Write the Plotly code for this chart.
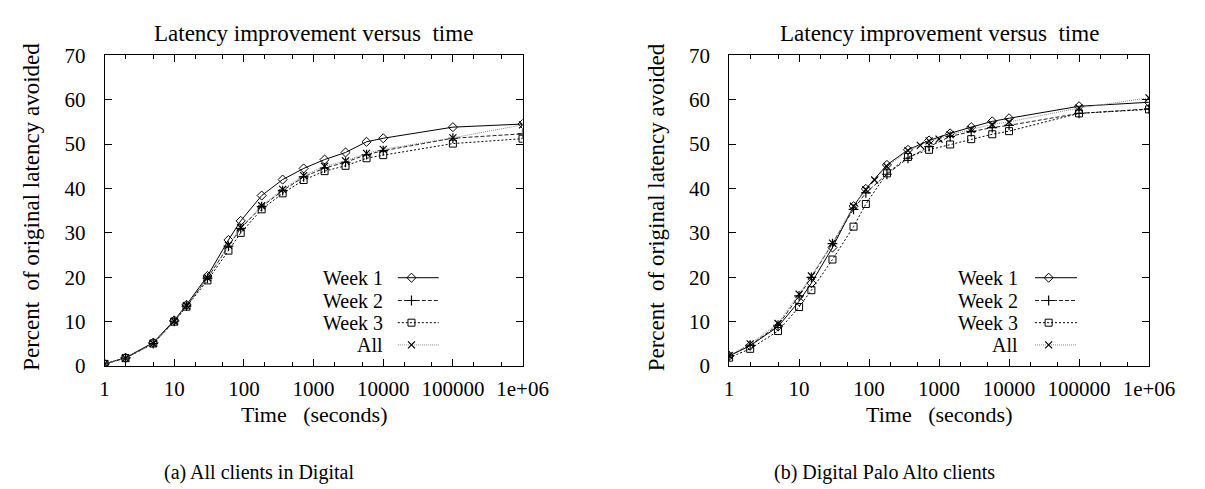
import plotly.graph_objects as go

# ---------------- data ----------------
times = [1, 2, 5, 10, 15, 30, 60, 90, 180, 360, 720, 1440, 2880, 5760, 10000, 100000, 1000000]

a_week1 = [0.5, 1.9, 5.3, 10.3, 13.8, 20.3, 28.4, 32.7, 38.4, 42.0, 44.5, 46.5, 48.1, 50.5, 51.3, 53.8, 54.5]
a_week2 = [0.5, 1.8, 5.1, 10.1, 13.5, 19.8, 27.0, 31.0, 35.9, 39.5, 42.6, 44.6, 45.9, 47.6, 48.5, 51.3, 52.3]
a_week3 = [0.5, 1.8, 5.1, 10.0, 13.4, 19.3, 26.0, 30.0, 35.3, 38.9, 41.9, 43.9, 45.1, 46.8, 47.5, 50.1, 51.2]
a_all = [0.5, 1.8, 5.1, 10.1, 13.6, 19.9, 27.2, 31.2, 36.1, 39.8, 42.9, 45.0, 46.2, 47.9, 48.8, 51.4, 54.3]

b_week1 = [2.3, 4.6, 8.9, 14.6, 18.7, 26.7, 36.0, 39.9, 45.3, 48.7, 50.8, 52.4, 53.8, 55.1, 55.8, 58.5, 59.4]
b_week2 = [2.3, 4.7, 9.2, 15.8, 20.0, 27.6, 35.3, 39.0, 43.2, 46.8, 49.4, 51.7, 52.8, 53.7, 54.2, 56.9, 57.9]
b_week3 = [1.9, 3.9, 7.9, 13.3, 17.1, 24.0, 31.4, 36.5, 43.4, 47.1, 48.7, 49.9, 51.1, 52.2, 52.9, 56.9, 57.8]
b_all_times = [1, 2, 5, 10, 15, 30, 60, 90, 120, 180, 360, 540, 720, 1000, 1440, 2880, 5760, 10000, 100000, 1000000]
b_all = [2.4, 5.0, 9.6, 16.2, 20.3, 27.7, 36.0, 39.7, 41.9, 44.9, 48.5, 49.7, 50.7, 51.1, 52.1, 53.3, 54.4, 55.0, 58.1, 60.4]

series_names = ["Week 1", "Week 2", "Week 3", "All"]
x_tickvals = [1, 10, 100, 1000, 10000, 100000, 1000000]
x_ticktext = ["1", "10", "100", "1000", "10000", "100000", "1e+06"]
x_minorvals = [2, 5, 20, 50, 200, 500, 2000, 5000, 20000, 50000, 200000, 500000]

title_text = "Latency improvement versus  time"
ytitle_text = "Percent  of original latency avoided"
xtitle_text = "Time   (seconds)"
caption_a = "(a) All clients in Digital"
caption_b = "(b) Digital Palo Alto clients"

# ---------------- styles ----------------
FONT = "Liberation Serif"
FS_TICK = 21
FS_LEG = 20
W, H = 1205, 489
styles = [
    dict(line=dict(color="black", width=1, dash="solid"),
         marker=dict(symbol="diamond-open", size=7, color="black", line=dict(width=1))),
    dict(line=dict(color="#222222", width=1, dash="4px,2px"),
         marker=dict(symbol="cross-thin-open", size=7, color="black", line=dict(width=1.2))),
    dict(line=dict(color="black", width=1, dash="2px,2px"),
         marker=dict(symbol="square-open", size=7, color="black", line=dict(width=1))),
    dict(line=dict(color="#888888", width=1, dash="1px,1px"),
         marker=dict(symbol="x-thin-open", size=7, color="black", line=dict(width=1.2))),
]

# plot boxes in pixels
boxes = [(94, 523), (735, 1166)]
y_top, y_bot = 37, 364


def px_to_paper_x(px):
    return px / W


def px_to_paper_y(py):
    return (H - py) / H


fig = go.Figure()

panels = [
    (["x", "y"], [(times, a_week1), (times, a_week2), (times, a_week3), (times, a_all)]),
    (["x2", "y2"], [(times, b_week1), (times, b_week2), (times, b_week3), (b_all_times, b_all)]),
]

for (xa, ya), data in panels:
    for name, (xs, ys), st in zip(series_names, data, styles):
        fig.add_trace(go.Scatter(x=xs, y=ys, mode="lines+markers", name=name,
                                 xaxis=xa, yaxis=ya, line=st["line"], marker=st["marker"],
                                 showlegend=False))

# legend samples (gnuplot-style key: text then sample) on overlay axes
legend_rows_py = [271, 295, 318.3, 341.7]
legend_geom = [  # text right edge, line start, line end, marker pos (px)
    (381, 395, 437, 409),
    (1033, 1049, 1092, 1063),
]
legend_axes = [("x3", "y3"), ("x4", "y4")]
annotations = []
for pi, ((tr, l0, l1, lm), (xa, ya)) in enumerate(zip(legend_geom, legend_axes)):
    bx0, bx1 = boxes[pi]
    fx = lambda p: (p - bx0) / (bx1 - bx0)
    for name, py, st in zip(series_names, legend_rows_py, styles):
        fy = (y_bot - py) / (y_bot - y_top)
        fig.add_trace(go.Scatter(x=[fx(l0), fx(l1)], y=[fy, fy], mode="lines", xaxis=xa, yaxis=ya,
                                 line=st["line"], showlegend=False, hoverinfo="skip"))
        fig.add_trace(go.Scatter(x=[fx(lm)], y=[fy], mode="markers", xaxis=xa, yaxis=ya,
                                 marker=st["marker"], showlegend=False, hoverinfo="skip"))
        annotations.append(dict(text=name, x=px_to_paper_x(tr), y=px_to_paper_y(py),
                                xref="paper", yref="paper", xanchor="right", yanchor="middle",
                                borderpad=0, showarrow=False,
                                font=dict(size=FS_LEG, family=FONT, color="black")))

for pi, (bx0, bx1) in enumerate(boxes):
    cx = (bx0 + bx1) / 2
    annotations.append(dict(text=title_text, x=px_to_paper_x(cx), y=px_to_paper_y(14),
                            xref="paper", yref="paper", xanchor="center", yanchor="middle",
                            showarrow=False, font=dict(size=23, family=FONT, color="black")))
    annotations.append(dict(text=xtitle_text, x=px_to_paper_x(cx), y=px_to_paper_y(415),
                            xref="paper", yref="paper", xanchor="center", yanchor="middle",
                            borderpad=0, showarrow=False, font=dict(size=22, family=FONT, color="black")))
    annotations.append(dict(text=ytitle_text, x=px_to_paper_x(bx0 - 75), y=px_to_paper_y(197),
                            xref="paper", yref="paper", xanchor="center", yanchor="middle", textangle=-90,
                            showarrow=False, font=dict(size=23, family=FONT, color="black")))

annotations.append(dict(text=caption_a, x=px_to_paper_x(252), y=px_to_paper_y(476),
                        xref="paper", yref="paper", xanchor="center", yanchor="middle",
                        showarrow=False, font=dict(size=20, family=FONT, color="black")))
annotations.append(dict(text=caption_b, x=px_to_paper_x(895), y=px_to_paper_y(476),
                        xref="paper", yref="paper", xanchor="center", yanchor="middle",
                        showarrow=False, font=dict(size=20, family=FONT, color="black")))

ydom = [px_to_paper_y(y_bot), px_to_paper_y(y_top)]


def xaxis_cfg(bx):
    return dict(type="log", range=[0, 6], domain=[px_to_paper_x(bx[0]), px_to_paper_x(bx[1])],
                tickmode="array", tickvals=x_tickvals, ticktext=x_ticktext,
                ticks="inside", ticklen=7, tickcolor="black", tickwidth=1,
                minor=dict(tickmode="array", tickvals=x_minorvals, ticks="inside", ticklen=4,
                           tickcolor="black", tickwidth=1, showgrid=False),
                showline=True, linecolor="black", linewidth=1, mirror="allticks",
                showgrid=False, zeroline=False, ticklabelstandoff=4,
                tickfont=dict(size=FS_TICK, family=FONT, color="black"))


def yaxis_cfg():
    return dict(range=[0, 70], domain=ydom, tickmode="array", tickvals=list(range(0, 71, 10)),
                ticks="inside", ticklen=7, tickcolor="black", tickwidth=1,
                showline=True, linecolor="black", linewidth=1, mirror="allticks",
                showgrid=False, zeroline=False, ticklabelstandoff=14,
                tickfont=dict(size=FS_TICK, family=FONT, color="black"))


fig.update_layout(
    width=W, height=H, margin=dict(l=0, r=0, t=0, b=0),
    paper_bgcolor="white", plot_bgcolor="white",
    font=dict(family=FONT, color="black"),
    xaxis=dict(xaxis_cfg(boxes[0]), anchor="y"), yaxis=dict(yaxis_cfg(), anchor="x"),
    xaxis2=dict(xaxis_cfg(boxes[1]), anchor="y2"), yaxis2=dict(yaxis_cfg(), anchor="x2"),
    xaxis3=dict(overlaying="x", range=[0, 1], visible=False, anchor="y3"),
    yaxis3=dict(overlaying="y", range=[0, 1], visible=False, anchor="x3"),
    xaxis4=dict(overlaying="x2", range=[0, 1], visible=False, anchor="y4"),
    yaxis4=dict(overlaying="y2", range=[0, 1], visible=False, anchor="x4"),
    annotations=annotations, showlegend=False,
)

fig.write_html("out.html")
